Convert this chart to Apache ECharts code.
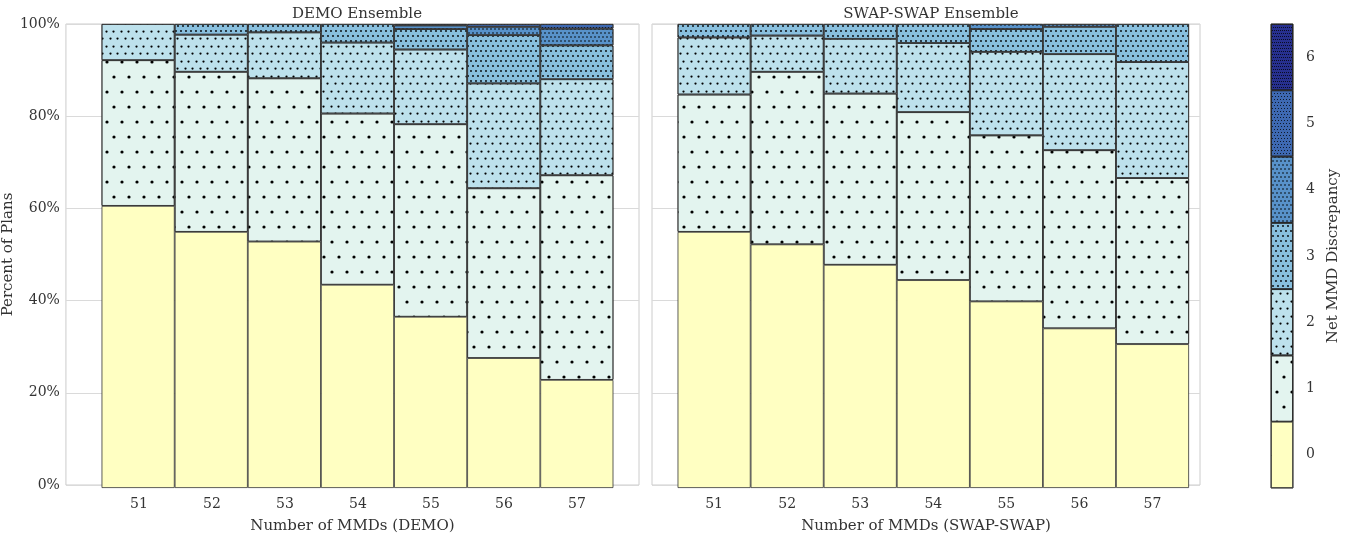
<!DOCTYPE html>
<html>
<head>
<meta charset="utf-8">
<script src="https://cdn.jsdelivr.net/npm/echarts@6/dist/echarts.min.js"></script>
<style>
  html, body { margin: 0; padding: 0; background: #ffffff; }
  #chart { width: 1351px; height: 539px; }
</style>
</head>
<body>
<div id="chart"></div>
<script>
// Categories and tick labels
const mmdCounts = [51, 52, 53, 54, 55, 56, 57];
const discrepancyLevels = ['0', '1', '2', '3', '4', '5', '6'];
const percentTicks = [0, 20, 40, 60, 80, 100];

// DEMO ensemble: percent of plans at each net MMD discrepancy, per MMD count
const demoNet0 = [60.8, 55.2, 53.1, 43.8, 36.9, 28.0, 23.3];
const demoNet1 = [31.4, 34.5, 35.2, 36.9, 41.5, 36.6, 44.1];
const demoNet2 = [7.8, 8.0, 9.9, 15.3, 16.1, 22.6, 20.7];
const demoNet3 = [0, 2.3, 1.8, 4.0, 4.4, 10.4, 7.3];
const demoNet4 = [0, 0, 0, 0, 0.8, 1.8, 3.6];
const demoNet5 = [0, 0, 0, 0, 0.3, 0.6, 1.0];
const demoNet6 = [0, 0, 0, 0, 0, 0, 0];

// SWAP-SWAP ensemble
const swapNet0 = [55.2, 52.5, 48.1, 44.8, 40.2, 34.4, 31.0];
const swapNet1 = [29.6, 37.2, 36.9, 36.2, 35.8, 38.4, 35.8];
const swapNet2 = [12.3, 7.8, 11.8, 14.9, 18.0, 20.7, 25.0];
const swapNet3 = [2.9, 2.5, 3.2, 4.1, 4.9, 5.9, 8.2];
const swapNet4 = [0, 0, 0, 0, 1.1, 0.6, 0];
const swapNet5 = [0, 0, 0, 0, 0, 0, 0];
const swapNet6 = [0, 0, 0, 0, 0, 0, 0];

const demoLevels = [demoNet0, demoNet1, demoNet2, demoNet3, demoNet4, demoNet5, demoNet6];
const swapLevels = [swapNet0, swapNet1, swapNet2, swapNet3, swapNet4, swapNet5, swapNet6];

// Styling
const FONT = 'DejaVu Serif';
const TEXT = '#333333';
const FRAME = '#cccccc';
const GRIDLINE = '#dadada';
const EDGE = '#333333';
const DOT = '#000000';
const levelColors = ['#ffffc2', '#e3f4ef', '#bde1ec', '#88bfde', '#5892ca', '#3e69b2', '#27308f'];

// Dot hatches that get denser with each discrepancy level (alternate rows offset)
function rows(cell, gap, n) {
  const out = [];
  for (let i = 0; i < n; i++) out.push(cell, gap);
  return out;
}
const levelDecals = [
  null,
  { symbol: 'circle', symbolSize: 0.8, color: DOT,
    dashArrayX: [[4, 11], [0, 7, 4, 4]], dashArrayY: rows(4, 11, 2) },
  { symbol: 'circle', symbolSize: 0.75, color: DOT,
    dashArrayX: [[3, 4, 3, 5], [0, 4, 3, 4, 3, 1]], dashArrayY: [3, 4, 3, 5] },
  { symbol: 'circle', symbolSize: 0.9, color: DOT,
    dashArrayX: [[2, 3, 2, 3, 2, 3], [0, 2, 2, 3, 2, 3, 2, 1]], dashArrayY: rows(2, 3, 6) },
  { symbol: 'circle', symbolSize: 0.8, color: DOT,
    dashArrayX: [[2, 2], [0, 2, 2, 0]], dashArrayY: rows(2, 2, 2) },
  { symbol: 'circle', symbolSize: 1, color: DOT,
    dashArrayX: [[1, 2], [0, 2, 1, 0]], dashArrayY: rows(1, 2, 2) },
  { symbol: 'circle', symbolSize: 1, color: DOT,
    dashArrayX: [[1, 1], [0, 1, 1, 0]], dashArrayY: rows(1, 2, 2) }
];

// Panel geometry: the frame spans a little more than the bars on each side
const panels = [
  { left: 65, width: 574, xMin: 50.0, xMax: 57.85 },
  { left: 652, width: 548, xMin: 50.15, xMax: 57.65 }
];
const TOP = 24, HEIGHT = 464;

function barGridFor(idx) {
  const p = panels[idx];
  const ppu = p.width / (p.xMax - p.xMin);
  const first = mmdCounts[0] - 0.5;
  return { left: p.left + (first - p.xMin) * ppu, top: TOP, width: mmdCounts.length * ppu, height: HEIGHT };
}

function barSeries(levels, stackName, gridIdx) {
  return levels.map((vals, k) => ({
    type: 'bar',
    name: discrepancyLevels[k],
    xAxisIndex: gridIdx,
    yAxisIndex: gridIdx,
    stack: stackName,
    barCategoryGap: 0,
    barWidth: '100%',
    itemStyle: {
      color: levelColors[k],
      borderColor: EDGE,
      borderWidth: 0.8,
      decal: levelDecals[k] || undefined
    },
    data: vals.map(v => (v > 0 ? v : '-'))
  }));
}

function frameXAxis(idx, title) {
  const p = panels[idx];
  return {
    type: 'value', gridIndex: idx, min: p.xMin, max: p.xMax,
    splitLine: { show: false },
    axisLine: { show: false },
    axisTick: { show: false },
    axisLabel: { customValues: mmdCounts, color: TEXT, fontFamily: FONT, fontSize: 14, margin: 12 },
    name: title, nameLocation: 'middle', nameGap: 34,
    nameTextStyle: { color: TEXT, fontFamily: FONT, fontSize: 15 }
  };
}

function frameYAxis(idx) {
  return {
    type: 'value', gridIndex: idx, min: 0, max: 100, interval: 20,
    axisLine: { show: false },
    axisTick: { show: false },
    splitLine: { show: true, lineStyle: { color: GRIDLINE, width: 1 } },
    axisLabel: {
      show: idx === 0, color: TEXT, fontFamily: FONT, fontSize: 14, margin: 6,
      formatter: v => (percentTicks.indexOf(v) >= 0 ? v + '%' : '')
    },
    name: idx === 0 ? 'Percent of Plans' : '',
    nameLocation: 'middle', nameGap: 46, nameRotate: 90,
    nameTextStyle: { color: TEXT, fontFamily: FONT, fontSize: 15 }
  };
}

function barXAxis(gridIdx) {
  return { type: 'category', gridIndex: gridIdx, data: mmdCounts, show: false, boundaryGap: true };
}
function barYAxis(gridIdx) {
  return { type: 'value', gridIndex: gridIdx, min: 0, max: 100, show: false, splitLine: { show: false } };
}

const chart = echarts.init(document.getElementById('chart'), null, { renderer: 'canvas' });

chart.setOption({
  animation: false,
  backgroundColor: '#ffffff',
  title: [
    { text: 'DEMO Ensemble', left: panels[0].left + panels[0].width / 2, top: 2, textAlign: 'center',
      textStyle: { color: TEXT, fontFamily: FONT, fontSize: 15, fontWeight: 'normal' } },
    { text: 'SWAP-SWAP Ensemble', left: panels[1].left + panels[1].width / 2, top: 2, textAlign: 'center',
      textStyle: { color: TEXT, fontFamily: FONT, fontSize: 15, fontWeight: 'normal' } }
  ],
  grid: [
    // panel frames with gridlines and labels
    { left: panels[0].left, top: TOP, width: panels[0].width, height: HEIGHT,
      show: true, borderColor: FRAME, borderWidth: 1, backgroundColor: '#ffffff' },
    { left: panels[1].left, top: TOP, width: panels[1].width, height: HEIGHT,
      show: true, borderColor: FRAME, borderWidth: 1, backgroundColor: '#ffffff' },
    // bar areas
    barGridFor(0),
    barGridFor(1),
    // colour bar
    { left: 1271, top: TOP, width: 22, height: HEIGHT,
      show: true, borderColor: '#222222', borderWidth: 1 }
  ],
  xAxis: [
    frameXAxis(0, 'Number of MMDs (DEMO)'),
    frameXAxis(1, 'Number of MMDs (SWAP-SWAP)'),
    barXAxis(2),
    barXAxis(3),
    { type: 'value', gridIndex: 4, min: 0, max: 1, show: false }
  ],
  yAxis: [
    frameYAxis(0),
    frameYAxis(1),
    barYAxis(2),
    barYAxis(3),
    {
      type: 'category', gridIndex: 4, data: discrepancyLevels, position: 'right',
      axisLine: { show: false },
      axisTick: { show: true, alignWithLabel: true, length: 5, lineStyle: { color: TEXT } },
      axisLabel: { color: TEXT, fontFamily: FONT, fontSize: 14, margin: 13 },
      splitLine: { show: false },
      name: 'Net MMD Discrepancy', nameLocation: 'middle', nameGap: 33, nameRotate: 90,
      nameTextStyle: { color: TEXT, fontFamily: FONT, fontSize: 15 }
    }
  ],
  series: [
    ...barSeries(demoLevels, 'demo', 2),
    ...barSeries(swapLevels, 'swap', 3),
    {
      type: 'bar', xAxisIndex: 4, yAxisIndex: 4, barCategoryGap: 0, barWidth: '100%',
      data: discrepancyLevels.map((lv, k) => ({
        value: 1,
        itemStyle: {
          color: levelColors[k], borderColor: '#222222', borderWidth: 0.8,
          decal: levelDecals[k] || undefined
        }
      }))
    }
  ]
});
</script>
</body>
</html>
